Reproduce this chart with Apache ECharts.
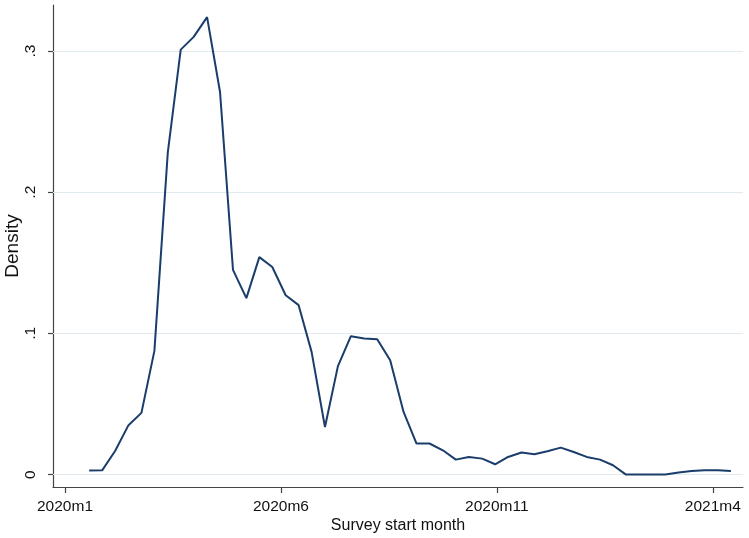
<!DOCTYPE html>
<html>
<head>
<meta charset="utf-8">
<script src="https://cdn.jsdelivr.net/npm/echarts@6/dist/echarts.min.js"></script>
<style>
  html, body { margin: 0; padding: 0; background: #fff; }
  #chart { width: 749px; height: 538px; }
</style>
</head>
<body>
<div id="chart"></div>
<script>
// months since 2020m1 (kdensity evaluation points)
const monthOffset = [
  0.56, 0.86, 1.16, 1.47, 1.77, 2.07, 2.38, 2.68, 2.98, 3.29,
  3.59, 3.89, 4.20, 4.50, 4.80, 5.11, 5.41, 5.71, 6.02, 6.32,
  6.62, 6.93, 7.23, 7.53, 7.84, 8.14, 8.44, 8.75, 9.05, 9.35,
  9.66, 9.96, 10.26, 10.57, 10.87, 11.17, 11.48, 11.78, 12.08, 12.39,
  12.69, 12.99, 13.30, 13.60, 13.90, 14.21, 14.51, 14.81, 15.12, 15.42
]
const density = [
  0.0028, 0.003, 0.0167, 0.035, 0.0437, 0.0876, 0.228, 0.301, 0.310, 0.324,
  0.271, 0.145, 0.125, 0.154, 0.147, 0.127, 0.120, 0.0869, 0.0337, 0.0768,
  0.098, 0.0964, 0.0959, 0.081, 0.0444, 0.022, 0.022, 0.0172, 0.0106, 0.0125,
  0.0113, 0.0073, 0.0125, 0.0156, 0.0144, 0.0165, 0.0191, 0.016, 0.0125, 0.0106,
  0.0066, 0, 0, 0, 0, 0.0014, 0.0026, 0.003, 0.003, 0.0026
]
const xTickValues = [0, 5, 10, 15]
const xTickLabels = ['2020m1', '2020m6', '2020m11', '2021m4']
const yTickValues = [0, 0.1, 0.2, 0.3]
const yTickLabels = ['0', '.1', '.2', '.3']

let myChart = echarts.init(document.getElementById('chart'))
const font = 'Liberation Sans, Arial, sans-serif'
const options = {
    backgroundColor: '#ffffff',
    animation: false,
    grid: {
        left: 53,
        right: 6,
        top: 5,
        bottom: 51,
        containLabel: false,
        outerBoundsMode: 'none'
    },
    xAxis: {
        type: 'value',
        min: -0.278,
        max: 15.70,
        name: 'Survey start month',
        nameLocation: 'middle',
        nameGap: 31,
        nameMoveOverlap: false,
        nameTextStyle: { fontFamily: font, fontSize: 16, color: '#111' },
        axisLine: { show: true, onZero: false, lineStyle: { color: '#444', width: 1.2 } },
        axisTick: {
            show: true, length: 6, inside: false,
            customValues: xTickValues,
            lineStyle: { color: '#444', width: 1.2 }
        },
        axisLabel: {
            customValues: xTickValues,
            margin: 12,
            fontFamily: font, fontSize: 15.5, color: '#111',
            formatter: v => xTickLabels[xTickValues.indexOf(v)]
        },
        splitLine: { show: false }
    },
    yAxis: {
        type: 'value',
        min: -0.0088,
        max: 0.3326,
        name: 'Density',
        nameLocation: 'middle',
        nameGap: 31,
        nameMoveOverlap: false,
        nameRotate: 90,
        nameTextStyle: { fontFamily: font, fontSize: 19, color: '#111' },
        axisLine: { show: true, onZero: false, lineStyle: { color: '#444', width: 1.2 } },
        axisTick: {
            show: true, length: 5, inside: false,
            customValues: yTickValues,
            lineStyle: { color: '#444', width: 1.2 }
        },
        axisLabel: {
            customValues: yTickValues,
            rotate: 90,
            margin: 14,
            fontFamily: font, fontSize: 15.5, color: '#111',
            formatter: v => yTickLabels[yTickValues.indexOf(v)]
        },
        splitLine: { show: false }
    },
    series: [
        {
            // gridlines
            type: 'line',
            data: [],
            z: 1,
            markLine: {
                z: 1,
                silent: true,
                symbol: 'none',
                label: { show: false },
                lineStyle: { color: '#e1eaef', width: 1, type: 'solid' },
                data: yTickValues.map(v => ({ yAxis: v }))
            }
        },
        {
            type: 'line',
            z: 3,
            data: monthOffset.map((m, i) => [m, density[i]]),
            showSymbol: false,
            smooth: false,
            lineStyle: { color: '#1a3d6b', width: 2 },
            itemStyle: { color: '#1a3d6b' }
        }
    ]
}
myChart.setOption(options)
</script>
</body>
</html>
